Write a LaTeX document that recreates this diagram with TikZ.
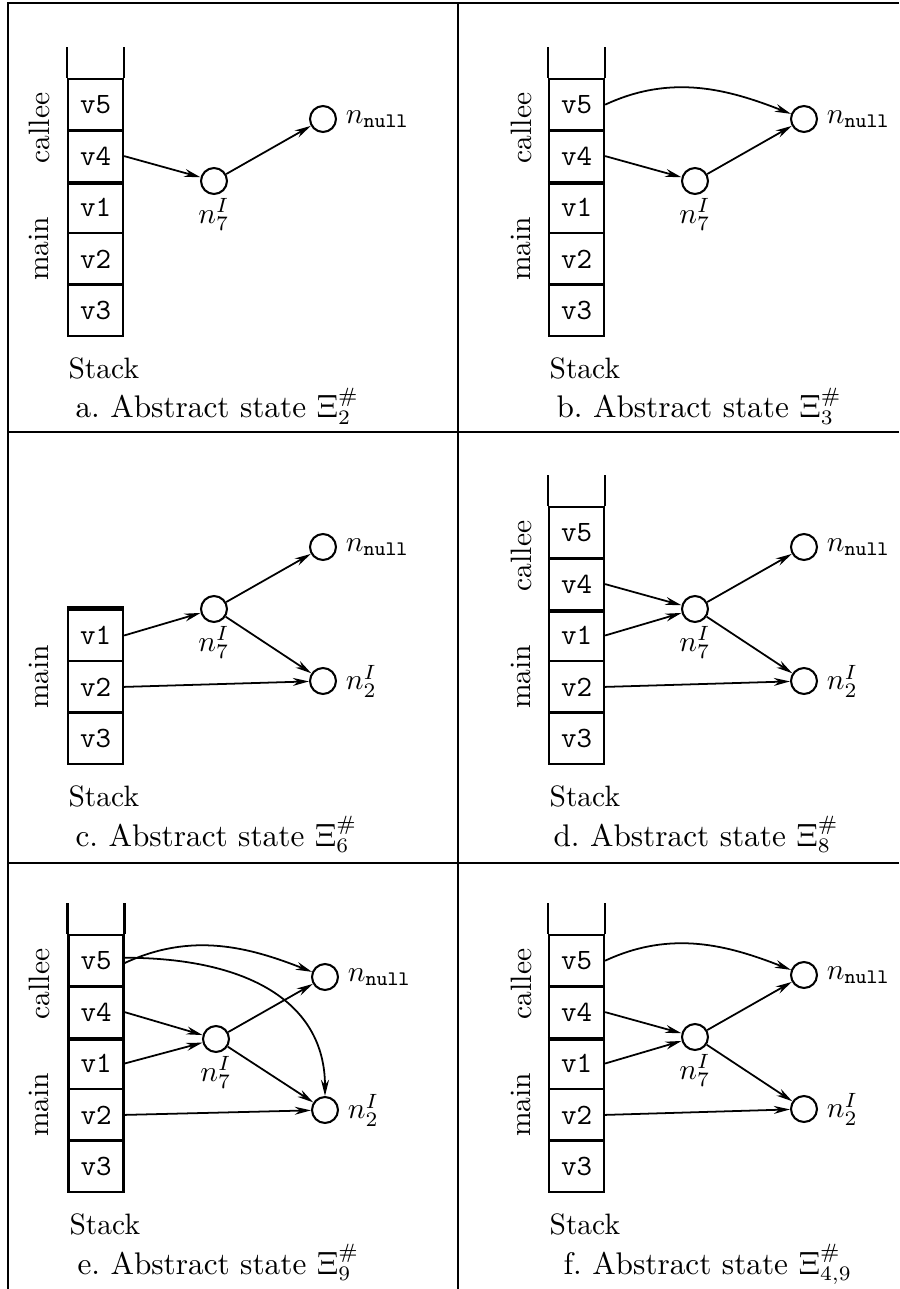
\documentclass[tikz,border=0pt]{standalone}
\usepackage{tikz}
\usetikzlibrary{arrows.meta}

\begin{document}
\begin{tikzpicture}[x=0.339pt,y=0.339pt,yscale=-1,xscale=1,
  cell/.style={draw, line width=0.8pt, minimum width=18.6pt, minimum height=17.4pt, inner sep=0pt, font=\ttfamily},
  wall/.style={line width=0.8pt},
  sep/.style={line width=1.6pt},
  heap/.style={circle, draw, line width=0.7pt, minimum size=8.8pt, inner sep=0pt},
  lab/.style={inner sep=1pt},
  rlab/.style={inner sep=1pt, label distance=1.8pt},
  ptr/.style={-{Stealth[length=5.5pt,width=2.7pt]}, line width=0.6pt},
  frame/.style={line width=0.5pt},
  capt/.style={inner sep=0pt, font=\fontsize{10.6}{12}\selectfont}]
\useasboundingbox (0,0) rectangle (899,1289);

%Straight Lines: table rules
\draw[frame] (8,1289) -- (8,3) -- (899,3) ;
\draw[frame] (458,3) -- (458,1289) ;
\draw[frame] (8,432) -- (899,432) ;
\draw[frame] (8,863) -- (899,863) ;

%%%%%%%% a
\begin{scope}
%Shape: Rectangle
\node[cell] (av5) at (95.5,104.7) {v5};
\node[cell] (av4) at (95.5,156.1) {v4};
\node[cell] (av1) at (95.5,207.5) {v1};
\node[cell] (av2) at (95.5,258.9) {v2};
\node[cell] (av3) at (95.5,310.3) {v3};
%Straight Lines
\draw[wall] (av5.north west) -- ++(0,-31) ;
\draw[wall] (av5.north east) -- ++(0,-31) ;
\draw[sep] (av4.south west) -- (av4.south east) ;
% Text Node
\node[rotate=90] (acallee) at (39,128) {callee};
\node[rotate=90] (amain) at (39,249) {main};
\node[anchor=west, inner sep=0pt] (astack) at (68,368) {Stack};
\node[capt, anchor=base west] (acapt) at (75,418) {a.\ Abstract state $\Xi^{\#}_{2}$};
%Shape: Circle
\node[heap, label={[lab]below:$n^{I}_{7}$}] (an7) at (214,181) {};
\node[heap, label={[rlab]right:$n_{\mathtt{null}}$}] (annull) at (323,119) {};
%Straight Lines
\draw[ptr] (av4.east) -- (an7) ;
\draw[ptr] (an7) -- (annull) ;
\end{scope}

%%%%%%%% b
\begin{scope}[shift={(481,0)}]
%Shape: Rectangle
\node[cell] (bv5) at (95.5,104.7) {v5};
\node[cell] (bv4) at (95.5,156.1) {v4};
\node[cell] (bv1) at (95.5,207.5) {v1};
\node[cell] (bv2) at (95.5,258.9) {v2};
\node[cell] (bv3) at (95.5,310.3) {v3};
%Straight Lines
\draw[wall] (bv5.north west) -- ++(0,-31) ;
\draw[wall] (bv5.north east) -- ++(0,-31) ;
\draw[sep] (bv4.south west) -- (bv4.south east) ;
% Text Node
\node[rotate=90] (bcallee) at (40,128) {callee};
\node[rotate=90] (bmain) at (40,249) {main};
\node[anchor=west, inner sep=0pt] (bstack) at (68,368) {Stack};
\node[capt, anchor=base west] (bcapt) at (75,418) {b.\ Abstract state $\Xi^{\#}_{3}$};
%Shape: Circle
\node[heap, label={[lab]below:$n^{I}_{7}$}] (bn7) at (214,181) {};
\node[heap, label={[rlab]right:$n_{\mathtt{null}}$}] (bnnull) at (323,119) {};
%Straight Lines
\draw[ptr] (bv4.east) -- (bn7) ;
\draw[ptr] (bn7) -- (bnnull) ;
%Curve Lines
\draw[ptr] (bv5.east) to[out=-25,in=-150] (bnnull) ;
\end{scope}

%%%%%%%% c
\begin{scope}[shift={(0,428)}]
%Shape: Rectangle
\node[cell] (cv1) at (95.5,207.5) {v1};
\node[cell] (cv2) at (95.5,258.9) {v2};
\node[cell] (cv3) at (95.5,310.3) {v3};
%Straight Lines
\draw[sep] (cv1.north west) -- (cv1.north east) ;
% Text Node
\node[rotate=90] (cmain) at (39,249) {main};
\node[anchor=west, inner sep=0pt] (cstack) at (68,368) {Stack};
\node[capt, anchor=base west] (ccapt) at (75,418) {c.\ Abstract state $\Xi^{\#}_{6}$};
%Shape: Circle
\node[heap, label={[lab]below:$n^{I}_{7}$}] (cn7) at (214,181) {};
\node[heap, label={[rlab]right:$n_{\mathtt{null}}$}] (cnnull) at (323,119) {};
\node[heap, label={[rlab]right:$n^{I}_{2}$}] (cn2) at (323,253) {};
%Straight Lines
\draw[ptr] (cv1.east) -- (cn7) ;
\draw[ptr] (cn7) -- (cnnull) ;
\draw[ptr] (cn7) -- (cn2) ;
\draw[ptr] (cv2.east) -- (cn2) ;
\end{scope}

%%%%%%%% d
\begin{scope}[shift={(481,428)}]
%Shape: Rectangle
\node[cell] (dv5) at (95.5,104.7) {v5};
\node[cell] (dv4) at (95.5,156.1) {v4};
\node[cell] (dv1) at (95.5,207.5) {v1};
\node[cell] (dv2) at (95.5,258.9) {v2};
\node[cell] (dv3) at (95.5,310.3) {v3};
%Straight Lines
\draw[wall] (dv5.north west) -- ++(0,-31) ;
\draw[wall] (dv5.north east) -- ++(0,-31) ;
\draw[sep] (dv4.south west) -- (dv4.south east) ;
% Text Node
\node[rotate=90] (dcallee) at (40,128) {callee};
\node[rotate=90] (dmain) at (40,249) {main};
\node[anchor=west, inner sep=0pt] (dstack) at (68,368) {Stack};
\node[capt, anchor=base west] (dcapt) at (72,418) {d.\ Abstract state $\Xi^{\#}_{8}$};
%Shape: Circle
\node[heap, label={[lab]below:$n^{I}_{7}$}] (dn7) at (214,181) {};
\node[heap, label={[rlab]right:$n_{\mathtt{null}}$}] (dnnull) at (323,119) {};
\node[heap, label={[rlab]right:$n^{I}_{2}$}] (dn2) at (323,253) {};
%Straight Lines
\draw[ptr] (dv4.east) -- (dn7) ;
\draw[ptr] (dv1.east) -- (dn7) ;
\draw[ptr] (dn7) -- (dnnull) ;
\draw[ptr] (dn7) -- (dn2) ;
\draw[ptr] (dv2.east) -- (dn2) ;
\end{scope}

%%%%%%%% e
\begin{scope}[shift={(0,856)}]
%Shape: Rectangle
\node[cell] (ev5) at (96,104.7) {v5};
\node[cell] (ev4) at (96,156.1) {v4};
\node[cell] (ev1) at (96,207.5) {v1};
\node[cell] (ev2) at (96,258.9) {v2};
\node[cell] (ev3) at (96,310.3) {v3};
%Straight Lines
\draw[wall] (ev5.north west) -- ++(0,-31) ;
\draw[wall] (ev5.north east) -- ++(0,-31) ;
\draw[sep] (ev4.south west) -- (ev4.south east) ;
% Text Node
\node[rotate=90] (ecallee) at (39,128) {callee};
\node[rotate=90] (emain) at (39,249) {main};
\node[anchor=west, inner sep=0pt] (estack) at (69,368) {Stack};
\node[capt, anchor=base west] (ecapt) at (77,418) {e.\ Abstract state $\Xi^{\#}_{9}$};
%Shape: Circle
\node[heap, label={[lab]below:$n^{I}_{7}$}] (en7) at (216,183) {};
\node[heap, label={[rlab]right:$n_{\mathtt{null}}$}] (ennull) at (325,121) {};
\node[heap, label={[rlab]right:$n^{I}_{2}$}] (en2) at (325,254) {};
%Straight Lines
\draw[ptr] (ev4.east) -- (en7) ;
\draw[ptr] (ev1.east) -- (en7) ;
\draw[ptr] (en7) -- (ennull) ;
\draw[ptr] (en7) -- (en2) ;
\draw[ptr] (ev2.east) -- (en2) ;
%Curve Lines
\draw[ptr] ([yshift=0.8pt]ev5.east) to[out=-25,in=-150] (ennull) ;
\draw[ptr] ([yshift=-1pt]ev5.east) to[out=0,in=-90,looseness=1.2] (en2) ;
\end{scope}

%%%%%%%% f
\begin{scope}[shift={(481,856)}]
%Shape: Rectangle
\node[cell] (fv5) at (95.5,104.7) {v5};
\node[cell] (fv4) at (95.5,156.1) {v4};
\node[cell] (fv1) at (95.5,207.5) {v1};
\node[cell] (fv2) at (95.5,258.9) {v2};
\node[cell] (fv3) at (95.5,310.3) {v3};
%Straight Lines
\draw[wall] (fv5.north west) -- ++(0,-31) ;
\draw[wall] (fv5.north east) -- ++(0,-31) ;
\draw[sep] (fv4.south west) -- (fv4.south east) ;
% Text Node
\node[rotate=90] (fcallee) at (40,128) {callee};
\node[rotate=90] (fmain) at (40,249) {main};
\node[anchor=west, inner sep=0pt] (fstack) at (68,368) {Stack};
\node[capt, anchor=base west] (fcapt) at (82,418) {f.\ Abstract state $\Xi^{\#}_{4,9}$};
%Shape: Circle
\node[heap, label={[lab]below:$n^{I}_{7}$}] (fn7) at (214,181) {};
\node[heap, label={[rlab]right:$n_{\mathtt{null}}$}] (fnnull) at (323,119) {};
\node[heap, label={[rlab]right:$n^{I}_{2}$}] (fn2) at (323,253) {};
%Straight Lines
\draw[ptr] (fv4.east) -- (fn7) ;
\draw[ptr] (fv1.east) -- (fn7) ;
\draw[ptr] (fn7) -- (fnnull) ;
\draw[ptr] (fn7) -- (fn2) ;
\draw[ptr] (fv2.east) -- (fn2) ;
%Curve Lines
\draw[ptr] (fv5.east) to[out=-25,in=-150] (fnnull) ;
\end{scope}

\end{tikzpicture}
\end{document}
